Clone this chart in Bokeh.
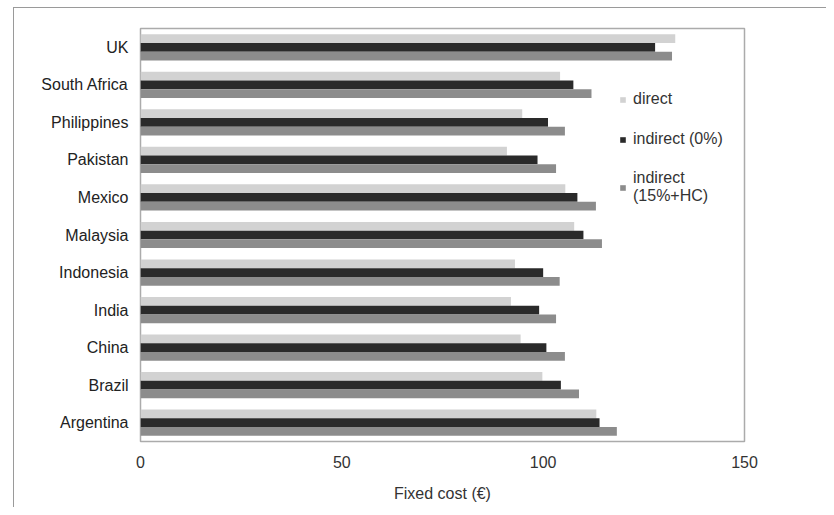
from bokeh.plotting import figure
from bokeh.models import (ColumnDataSource, FactorRange, Range1d, FixedTicker, Legend,
                          LegendItem, InlineStyleSheet)
from bokeh.transform import dodge
from bokeh.embed import file_html
from bokeh.resources import INLINE

countries = ["Argentina", "Brazil", "China", "India", "Indonesia", "Malaysia",
             "Mexico", "Pakistan", "Philippines", "South Africa", "UK"]
direct = [113.2, 99.8, 94.4, 92.0, 93.0, 107.7, 105.5, 91.0, 94.8, 104.2, 132.8]
indirect_0 = [114.0, 104.4, 100.8, 99.0, 100.0, 110.0, 108.5, 98.6, 101.2, 107.5, 127.8]
indirect_15hc = [118.3, 108.9, 105.4, 103.2, 104.1, 114.6, 113.1, 103.2, 105.4, 112.0, 132.0]
x_ticks = [0, 50, 100, 150]

src = ColumnDataSource(dict(country=countries, direct=direct,
                            ind0=indirect_0, ind15=indirect_15hc))

FONT = "Liberation Sans"

# outer picture border (top and left edges only, as in the scanned figure)
border_css = InlineStyleSheet(css="""
:host::before {
  content: "";
  position: absolute;
  left: 13px; top: 7px; right: 0; bottom: 0;
  border-top: 1.5px solid #9a9a9a;
  border-left: 1.5px solid #9a9a9a;
  pointer-events: none;
  z-index: 5;
}
""")

p = figure(width=826, height=507, output_backend="svg", toolbar_location=None,
           y_range=FactorRange(factors=countries), x_range=Range1d(0, 150),
           min_border_left=140, min_border_right=82, min_border_top=28,
           min_border_bottom=66, stylesheets=[border_css])

bw = 0.233
r1 = p.hbar(y=dodge("country", bw, range=p.y_range), right="direct", left=0, height=bw,
            source=src, fill_color="#d2d2d2", line_color=None)
r2 = p.hbar(y=dodge("country", 0, range=p.y_range), right="ind0", left=0, height=bw,
            source=src, fill_color="#2a2a2a", line_color=None)
r3 = p.hbar(y=dodge("country", -bw, range=p.y_range), right="ind15", left=0, height=bw,
            source=src, fill_color="#8c8c8c", line_color=None)

p.outline_line_color = "#ababab"
p.outline_line_width = 1.5
p.xgrid.grid_line_color = None
p.ygrid.grid_line_color = None

xa = p.xaxis[0]
xa.ticker = FixedTicker(ticks=x_ticks)
xa.axis_line_color = None
xa.major_tick_line_color = None
xa.minor_tick_line_color = None
xa.major_tick_in = 0
xa.major_tick_out = 0
xa.major_label_standoff = 14
xa.major_label_text_font = FONT
xa.major_label_text_font_size = "16px"
xa.major_label_text_color = "#333333"
xa.axis_label = "Fixed cost (€)"
xa.axis_label_text_font = FONT
xa.axis_label_text_font_size = "16px"
xa.axis_label_text_font_style = "normal"
xa.axis_label_text_color = "#333333"
xa.axis_label_standoff = 14

ya = p.yaxis[0]
ya.axis_line_color = None
ya.major_tick_line_color = None
ya.minor_tick_line_color = None
ya.major_tick_in = 0
ya.major_tick_out = 0
ya.major_label_standoff = 12
ya.major_label_text_font = FONT
ya.major_label_text_font_size = "16px"
ya.major_label_text_color = "#222222"

legend = Legend(items=[
    LegendItem(label="direct", renderers=[r1]),
    LegendItem(label="indirect (0%)", renderers=[r2]),
    LegendItem(label="indirect\n(15%+HC)", renderers=[r3]),
], location=(479, 236))
legend.background_fill_alpha = 0
legend.border_line_color = None
legend.padding = 0
legend.margin = 0
legend.spacing = 20
legend.glyph_width = 7
legend.glyph_height = 7
legend.label_standoff = 7
legend.label_height = 20
legend.label_text_font = FONT
legend.label_text_font_size = "16px"
legend.label_text_line_height = 1.35
legend.label_text_color = "#333333"
p.add_layout(legend, "center")

open("out.html", "w").write(file_html(p, INLINE))
